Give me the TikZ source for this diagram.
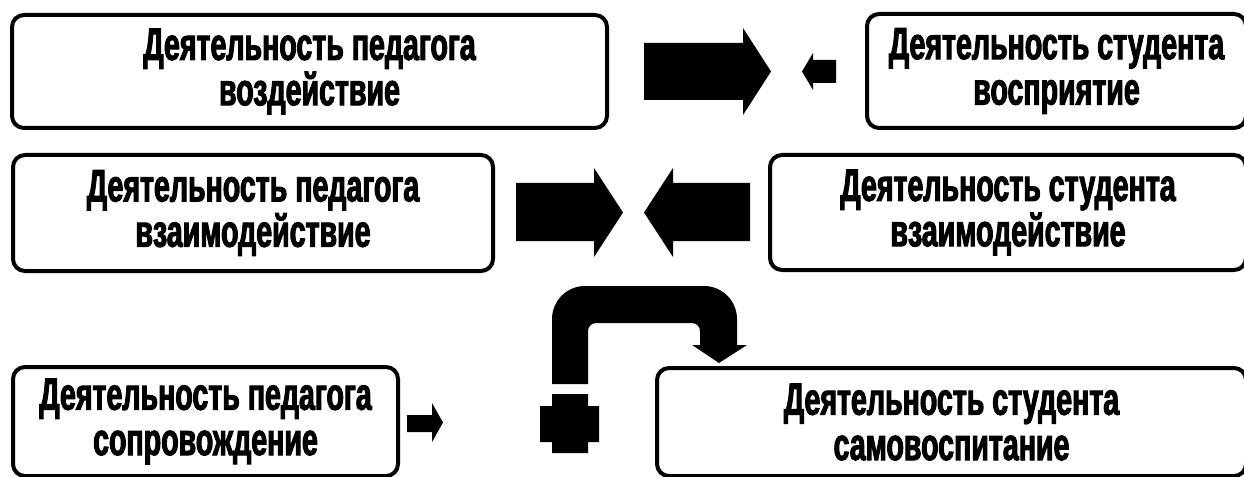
\documentclass[tikz,border=0pt]{standalone}
\usepackage{fontspec}
\newfontfamily\boxfont[FakeStretch=0.63,FakeBold=2.2]{Liberation Sans Bold}
\tikzset{
  box/.style={draw=black, line width=3pt, rounded corners=9pt, fill=white,
    align=center, inner sep=0pt,
    font=\boxfont\fontsize{34}{34}\selectfont},
  blockarrow/.style={fill=black}
}
\begin{document}
\begin{tikzpicture}[x=0.75pt,y=-0.75pt]
\useasboundingbox (0,0) rectangle (1244,477);
\fill[white] (0,0) rectangle (1244,477);

% boxes
\node[box, minimum width=446.25pt, minimum height=84.75pt] (pedVoz) at (309.5,71.5)
  {Деятельность педагога\\воздействие};
\node[box, minimum width=284.25pt, minimum height=85.5pt] (stVos) at (1056.5,71)
  {Деятельность студента\\восприятие};
\node[box, minimum width=360pt, minimum height=87pt] (pedVz) at (253,213)
  {Деятельность педагога\\взаимодействие};
\node[box, minimum width=357pt, minimum height=86.25pt] (stVz) at (1008,212.5)
  {Деятельность студента\\взаимодействие};
\node[box, minimum width=288.75pt, minimum height=81.75pt] (pedSop) at (205.5,421.5)
  {Деятельность педагога\\сопровождение};
\node[box, minimum width=441.75pt, minimum height=81pt] (stSam) at (951.5,422)
  {Деятельность студента\\самовоспитание};

% row 1 arrows
\fill[blockarrow] (644,43) -- (743,43) -- (743,28) -- (771,71.5) -- (743,115)
  -- (743,100) -- (644,100) -- cycle;
\fill[blockarrow] (836,60) -- (813,60) -- (813,53) -- (802,71.5) -- (813,90)
  -- (813,83) -- (836,83) -- cycle;

% row 2 arrows
\fill[blockarrow] (516,183) -- (594,183) -- (594,168) -- (623,212.5) -- (594,257)
  -- (594,241) -- (516,241) -- cycle;
\fill[blockarrow] (750,183) -- (673,183) -- (673,168) -- (644,212.5) -- (673,257)
  -- (673,241) -- (750,241) -- cycle;

% row 3 small arrow
\fill[blockarrow] (407,415) -- (432,415) -- (432,403) -- (443,422.5) -- (432,442)
  -- (432,432) -- (407,432) -- cycle;

% bent arrow
\fill[blockarrow] (552,384) -- (552,319) .. controls (552,300.8) and (566.8,286) .. (585,286)
  -- (704,286) .. controls (722.2,286) and (737,300.8) .. (737,319)
  -- (737,345) -- (747,345) -- (719,363) -- (692,345) -- (700,345)
  -- (700,331) .. controls (700,326.6) and (696.4,323) .. (692,323)
  -- (596,323) .. controls (591.6,323) and (588,326.6) .. (588,331)
  -- (588,384) -- cycle;

% cross block
\fill[blockarrow] (552,394) -- (588,394) -- (588,406) -- (599,406) -- (599,442)
  -- (588,442) -- (588,453) -- (552,453) -- (552,442) -- (540,442) -- (540,406)
  -- (552,406) -- cycle;
\end{tikzpicture}
\end{document}
